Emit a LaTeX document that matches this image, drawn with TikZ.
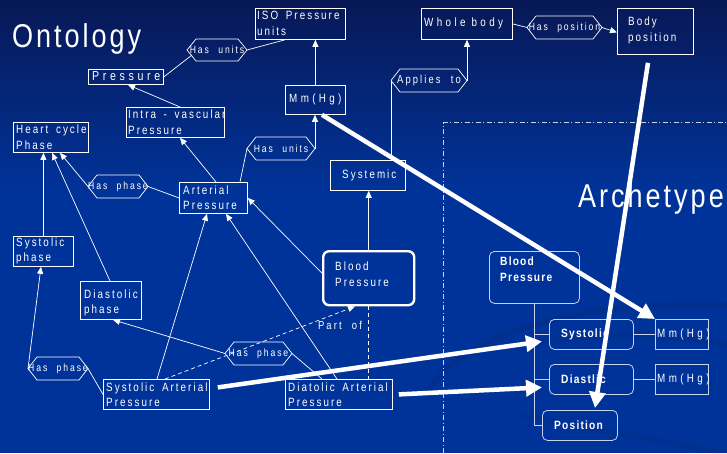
\documentclass[tikz,border=0pt]{standalone}
\usepackage{fontspec}
\setmainfont{Liberation Sans}
\newfontfamily\lblfont[FakeStretch=0.82,LetterSpace=17,WordSpace=1.6]{Liberation Sans}
\newfontfamily\widefont[FakeStretch=0.82,LetterSpace=28]{Liberation Sans}
\newfontfamily\relfont[FakeStretch=0.82,LetterSpace=18,WordSpace=2.2]{Liberation Sans}
\newfontfamily\boldfont[FakeStretch=0.85,LetterSpace=10]{Liberation Sans}
\newfontfamily\titlefont[FakeStretch=0.82,LetterSpace=9]{Liberation Sans}
\usetikzlibrary{arrows.meta,calc}

\definecolor{bgtop}{RGB}{8,24,86}
\definecolor{bgblue}{RGB}{0,51,153}
\definecolor{paleline}{RGB}{200,210,236}

\tikzset{
  box/.style={draw=white, line width=0.8pt, inner sep=0pt, anchor=north west},
  rbox/.style={box, draw=paleline, rounded corners=5pt},
  thickbox/.style={box, line width=2.4pt, rounded corners=6pt},
  lbl/.style={text=white, font=\lblfont\fontsize{12}{15.5}\selectfont, align=left, inner sep=0pt},
  widelbl/.style={lbl, font=\widefont\fontsize{12}{15.5}\selectfont},
  biglbl/.style={lbl, font=\widefont\fontsize{13}{15.5}\selectfont},
  boldlbl/.style={lbl, font=\boldfont\bfseries\fontsize{12}{16}\selectfont},
  hexlbl/.style={text=white, font=\relfont\fontsize{10.5}{12}\selectfont, inner sep=0pt},
  hexline/.style={draw=white, line width=0.7pt},
  title/.style={text=white, font=\titlefont\fontsize{33}{36}\selectfont, inner sep=0pt},
  link/.style={draw=white, line width=0.7pt},
  arr/.style={link, -{Triangle[length=7pt,width=6pt]}},
  alink/.style={draw=paleline, line width=0.7pt},
  partline/.style={link, dash pattern=on 4pt off 3pt},
  bigarr/.style={draw=white, line width=4.5pt, -{Triangle[length=16pt,width=16pt]}},
  frameline/.style={draw=paleline, line width=0.8pt, dash pattern=on 5pt off 2.5pt on 1pt off 2.5pt},
  swoosh/.style={draw=black, opacity=0.07, line width=6pt}
}

% rectangle of given corners, named
\newcommand\rectbox[6][box]{%
  \node[#1, minimum width={#5-#3}, minimum height={#6-#4}] (#2) at (#3,#4) {};}
% hexagonal relation label: name, x1, y1, x2, y2, text
\newcommand\hexrel[6]{%
  \coordinate (#1-w) at (#2,{(#3+#5)/2});
  \coordinate (#1-e) at (#4,{(#3+#5)/2});
  \draw[hexline] (#1-w) -- ({#2+9},#3) -- ({#4-9},#3) -- (#1-e)
                 -- ({#4-9},#5) -- ({#2+9},#5) -- cycle;
  \node[hexlbl] (#1) at ({(#2+#4)/2},{(#3+#5)/2}) {#6};}

\begin{document}
\begin{tikzpicture}[x=1pt, y=-1pt]
\useasboundingbox (0,0) rectangle (727,453);

% background
\shade[top color=bgtop, bottom color=bgblue] (0,0) rectangle (727,190);
\fill[bgblue] (0,189) rectangle (727,453);
\draw[swoosh] (425,395) .. controls (470,320) and (620,300) .. (727,305);
\draw[swoosh, opacity=0.05] (520,345) .. controls (600,330) and (680,335) .. (727,345);
\draw[swoosh, opacity=0.06] (520,415) .. controls (600,430) and (680,445) .. (727,453);

% titles
\node[title, anchor=base west] (ontitle) at (12,47) {Ontology};
\node[title, anchor=base west] (archtitle) at (578,207) {Archetype};

% archetype frame
\draw[frameline] (443,453) -- (443,122.5) -- (727,122.5);

% ontology boxes
\rectbox{iso}{255}{8}{345}{39}
\node[lbl, anchor=west] (iso-t) at (257,23.5) {ISO Pressure\\units};
\rectbox{pressure}{88}{69}{163}{84}
\node[biglbl, anchor=west] (pressure-t) at (92,76.5) {Pressure};
\rectbox{mmhg}{285}{85}{345}{114}
\node[widelbl, anchor=west] (mmhg-t) at (289,99.5) {Mm(Hg)};
\rectbox{intra}{126}{107}{224}{137}
\node[lbl, anchor=west] (intra-t) at (128,122) {Intra - vascular\\Pressure};
\rectbox{heart}{13}{122}{88}{152}
\node[lbl, anchor=west] (heart-t) at (16,137) {Heart cycle\\Phase};
\rectbox{arterial}{179}{182}{247}{213}
\node[lbl, anchor=west] (arterial-t) at (183,197.5) {Arterial\\Pressure};
\rectbox{systemic}{330}{160}{405}{190}
\node[lbl, anchor=west] (systemic-t) at (342,175) {Systemic};
\rectbox{sphase}{13}{236}{73}{266}
\node[lbl, anchor=west] (sphase-t) at (16,251) {Systolic\\phase};
\rectbox{dphase}{80}{281}{141}{319}
\node[lbl, anchor=west] (dphase-t) at (84,303) {Diastolic\\phase};
\rectbox[thickbox]{blood}{322}{250}{413}{304}
\node[lbl, anchor=west] (blood-t) at (335,274) {Blood\\Pressure};
\rectbox{sap}{103}{379}{209}{409}
\node[lbl, anchor=west] (sap-t) at (106,394.5) {Systolic Arterial\\Pressure};
\rectbox{dap}{285}{379}{392}{409}
\node[lbl, anchor=west] (dap-t) at (288,394.5) {Diatolic Arterial\\Pressure};
\rectbox{whole}{421}{8}{512}{39}
\node[widelbl, anchor=west] (whole-t) at (424,23) {Whole body};
\rectbox{bodypos}{617}{8}{693}{54}
\node[lbl, anchor=west] (bodypos-t) at (628,30.5) {Body\\position};

% relation labels
\hexrel{hu1}{187}{39}{247}{61}{Has units}
\hexrel{hu2}{247}{137}{315}{160}{Has units}
\hexrel{hp1}{88}{175}{148}{198}{Has phase}
\hexrel{hp2}{28}{357}{88}{380}{Has phase}
\hexrel{hp3}{225}{342}{292}{365}{Has phase}
\hexrel{app}{391}{69}{467}{92}{\fontsize{11.5}{12}\selectfont Applies to}
\hexrel{hpos}{527}{16}{602}{39}{Has position}
\node[hexlbl, font=\relfont\fontsize{11.5}{12}\selectfont] (partof) at (340,325) {Part of};

% ontology connectors
\draw[link] (pressure.east) -- ($(hu1-w)+(5,5)$);
\draw[link] (hu1-e) -- ($(iso.south west)+(30,0)$);
\draw[arr] (mmhg.north) -- (mmhg.north |- iso.south);
\draw[arr] ($(intra.north west)+(54,0)$) -- ($(pressure.south west)+(40,0)$);
\draw[arr] ($(arterial.north west)+(37,0)$) -- ($(intra.south west)+(54,0)$);
\draw[link] ($(arterial.north west)+(61,0)$) -- (hu2-w);
\draw[arr] (hu2-e) -- (hu2-e |- mmhg.south);
\draw[link] (hp1-e) -- (arterial.west);
\draw[arr] (hp1-w) -- ($(heart.south west)+(47,0)$);
\draw[arr] (sphase.north) -- (sphase.north |- heart.south);
\draw[arr] ($(dphase.north west)+(30,0)$) -- ($(heart.south west)+(39,0)$);
\draw[arr] (hp2-w) -- ($(sphase.south west)+(28,0)$);
\draw[link] (hp2-e) -- (sap.west);
\draw[arr] ($(sap.north west)+(54,0)$) -- ($(arterial.south west)+(28,0)$);
\draw[arr] ($(dap.north west)+(52,0)$) -- ($(arterial.south west)+(47,0)$);
\draw[arr] ($(blood.west)+(0,-5)$) -- (arterial.east);
\draw[arr] (hp3-w) -- ($(dphase.south west)+(33,0)$);
\draw[link] (hp3-e) -- ($(dap.north west)+(37,0)$);
\draw[arr] (blood.north) -- (blood.north |- systemic.south);
\draw[link] ($(systemic.north west)+(61,0)$) -- (app-w);
\draw[arr] (app-e) -- (app-e |- whole.south);
\draw[link] (whole.east) -- (hpos-w);
\draw[arr] (hpos-e) -- ($(bodypos.west)+(0,1)$);
\draw[partline, -{Triangle[length=7pt,width=6pt]}] ($(sap.north west)+(62,0)$) -- ($(blood.south west)+(33,0)$);
\draw[partline] (blood.south) -- (blood.south |- dap.north);

% archetype boxes
\rectbox[rbox]{abp}{489}{251}{579}{303}
\node[boldlbl, anchor=north west] (abp-t) at (500,257) {Blood\\Pressure};
\rectbox[rbox]{asys}{549}{319}{633}{349}
\node[boldlbl, anchor=west] (asys-t) at (561,334) {Systolic};
\rectbox[rbox]{adia}{549}{364}{633}{394}
\node[boldlbl, anchor=west] (adia-t) at (561,379) {Diastlic};
\rectbox[rbox]{apos}{542}{410}{617}{440}
\node[boldlbl, anchor=west] (apos-t) at (554,425) {Position};
\rectbox[box, draw=paleline]{amm1}{655}{319}{708}{349}
\node[widelbl, anchor=west] (amm1-t) at (657,334) {Mm(Hg)};
\rectbox[box, draw=paleline]{amm2}{655}{364}{708}{394}
\node[widelbl, anchor=west] (amm2-t) at (657,379) {Mm(Hg)};

% archetype tree
\coordinate (trunk) at ($(abp.south west)+(45,0)$);
\draw[alink] (trunk) |- (apos.west);
\draw[alink] (trunk |- asys.west) -- (asys.west);
\draw[alink] (trunk |- adia.west) -- (adia.west);
\draw[alink] (asys.east) -- (amm1.west);
\draw[alink] (adia.east) -- (amm2.west);

% mappings from ontology to archetype
\draw[bigarr] ($(mmhg.south west)+(37,0)$) -- (amm1.north west);
\draw[bigarr] ($(bodypos.south west)+(31,8)$) -- ($(apos.north west)+(53,-2)$);
\draw[bigarr] ($(sap.east)+(8,-7)$) -- ($(asys.west)+(-7,7)$);
\draw[bigarr] ($(dap.east)+(6,0)$) -- ($(adia.west)+(-7,8)$);
\end{tikzpicture}
\end{document}
